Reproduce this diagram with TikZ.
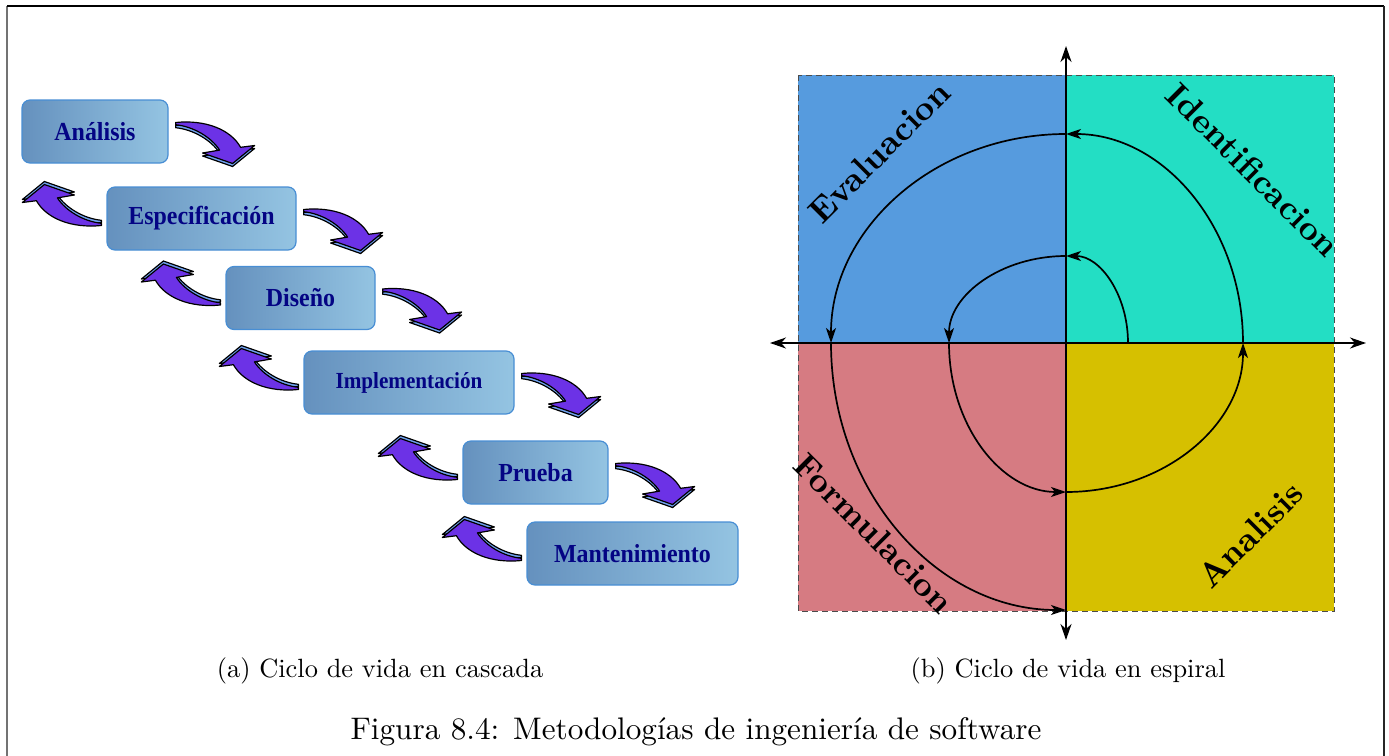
\documentclass[tikz,border=0pt]{standalone}
\usepackage{fontspec}
\newfontfamily\boxfont[FakeStretch=0.92]{Liberation Serif}
\newfontfamily\capfont{lmroman10-regular.otf}
\newfontfamily\labfont{lmroman10-bold.otf}
\usetikzlibrary{arrows.meta}

% stage boxes
\definecolor{boxleft}{RGB}{101,145,190}
\definecolor{boxright}{RGB}{148,196,226}
\definecolor{boxline}{RGB}{72,142,212}
\definecolor{boxtext}{RGB}{4,4,132}
% bent 3D arrows
\definecolor{arrowtop}{RGB}{108,50,230}
\definecolor{arrowside}{RGB}{112,162,240}
% spiral quadrants
\definecolor{quadTL}{RGB}{86,155,222}
\definecolor{quadTR}{RGB}{35,222,196}
\definecolor{quadBL}{RGB}{214,123,130}
\definecolor{quadBR}{RGB}{214,192,0}

\tikzset{
  stagebox/.style={rounded corners=8pt, draw=boxline, line width=1.2pt,
    left color=boxleft, right color=boxright, minimum height=63pt,
    inner sep=0pt, text=boxtext,
    font=\boxfont\bfseries\fontsize{26}{30}\selectfont},
  arrowoutline/.style={insert path={
    (0,0) .. controls (30,-3) and (55,7) .. (65,24.8)
    -- (79,23) -- (57,41) -- (27,30.5) -- (44,27.6)
    .. controls (36,15) and (18,4) .. (0,2.2) -- cycle}},
  bendarrow/.pic={
    \path[fill=arrowside, draw=black, line width=1.2pt, line join=round,
          shift={(0,3)}, arrowoutline];
    \path[fill=arrowtop, draw=black, line width=1.2pt, line join=round,
          arrowoutline];
  },
  quadlabel/.style={font=\labfont\fontsize{34}{40}\selectfont, inner sep=0pt},
  axisline/.style={line width=1.8pt, {Stealth[length=16pt,width=11pt,inset=5pt]}-{Stealth[length=16pt,width=11pt,inset=5pt]}},
  spiralarc/.style={line width=1.7pt, -{Stealth[length=15pt,width=10pt,inset=4pt]}},
  subcap/.style={font=\capfont\fontsize{26.4}{30}\selectfont, anchor=base, inner sep=0pt},
}

\begin{document}
\begin{tikzpicture}[x=1pt, y=-1pt]
\useasboundingbox (0,0) rectangle (1389,755);

% outer frame
\draw[line width=1.6pt, black!55] (7,760) -- (7,6);
\draw[line width=1.6pt, black] (7,6) -- (1384,6);
\draw[line width=1.6pt, black!85] (1384,6) -- (1384,760);

% ---------- waterfall life cycle ----------
\node[stagebox, minimum width=146pt] (b1) at (95,131.5) {Análisis};
\node[stagebox, minimum width=189pt] (b2) at (201.5,218.5) {Especificación};
\node[stagebox, minimum width=149pt] (b3) at (300.5,298) {Diseño};
\node[stagebox, minimum width=210pt, font=\boxfont\bfseries\fontsize{23}{27}\selectfont] (b4) at (409,382.5) {Implementación};
\node[stagebox, minimum width=145pt] (b5) at (535.5,472.5) {Prueba};
\node[stagebox, minimum width=211pt] (b6) at (632.5,553.5) {Mantenimiento};

% forward arrows
\foreach \b in {b1,b2,b3,b4,b5}
  \pic at ([shift={(7,-9)}]\b.east) {bendarrow};
% backward arrows
\foreach \b in {b2,b3,b4,b5,b6}
  \pic[rotate=180] at ([shift={(-5,7)}]\b.west) {bendarrow};

% ---------- spiral life cycle ----------
\fill[quadTL] (798,75) rectangle (1066,343);
\fill[quadTR] (1066,75) rectangle (1334,343);
\fill[quadBL] (798,343) rectangle (1066,611);
\fill[quadBR] (1066,343) rectangle (1334,611);
\draw[black!70, line width=1pt, dash pattern=on 6pt off 4pt] (798,75) rectangle (1334,611);

\coordinate (xl) at (770,343);
\coordinate (xr) at (1366,343);
\coordinate (yt) at (1066,46);
\coordinate (yb) at (1066,640);
\draw[axisline] (xl) -- (xr);
\draw[axisline] (yt) -- (yb);

\begin{scope}[shift={(1066,343)}, yscale=-1]
  \draw[spiralarc] (62,0) arc[start angle=0, end angle=90, x radius=62, y radius=87];
  \draw[spiralarc] (0,87) arc[start angle=90, end angle=180, x radius=117, y radius=87];
  \draw[spiralarc] (-117,0) arc[start angle=180, end angle=270, x radius=117, y radius=149];
  \draw[spiralarc] (0,-149) arc[start angle=270, end angle=360, x radius=177, y radius=149];
  \draw[spiralarc] (177,0) arc[start angle=0, end angle=90, x radius=177, y radius=209];
  \draw[spiralarc] (0,209) arc[start angle=90, end angle=180, x radius=235, y radius=209];
  \draw[spiralarc] (-235,0) arc[start angle=180, end angle=270, x radius=235, y radius=267];
\end{scope}

\node[quadlabel, rotate=45] (lev) at (879,152) {Evaluacion};
\node[quadlabel, rotate=-45] (lid) at (1253,170) {Identificacion};
\node[quadlabel, rotate=-45] (lfo) at (874,533) {Formulacion};
\node[quadlabel, rotate=45] (lan) at (1250,535) {Analisis};

% ---------- captions ----------
\node[subcap] (capa) at (380,677) {(a) Ciclo de vida en cascada};
\node[subcap] (capb) at (1068,677) {(b) Ciclo de vida en espiral};
\node[font=\capfont\fontsize{31.2}{36}\selectfont, anchor=base, inner sep=0pt] (capfig) at (696,739) {Figura 8.4: Metodologías de ingeniería de software};
\end{tikzpicture}
\end{document}
